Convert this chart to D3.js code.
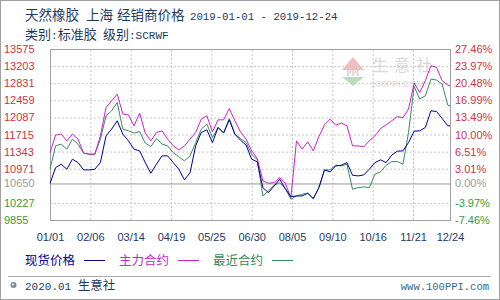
<!DOCTYPE html>
<html>
<head>
<meta charset="utf-8">
<script src="https://cdn.jsdelivr.net/npm/d3@7"></script>
<style>
  html, body { margin: 0; padding: 0; background: #fff; }
  svg { display: block; }
</style>
</head>
<body>
<svg></svg>
<script>
// sample dates (every 5 days) and the three price series
let dates = ['2019-01-01','2019-01-06','2019-01-11','2019-01-16','2019-01-21','2019-01-26','2019-01-31','2019-02-05','2019-02-10','2019-02-15',
             '2019-02-20','2019-02-25','2019-03-02','2019-03-07','2019-03-12','2019-03-17','2019-03-22','2019-03-27','2019-04-01','2019-04-06',
             '2019-04-11','2019-04-16','2019-04-21','2019-04-26','2019-05-01','2019-05-06','2019-05-11','2019-05-16','2019-05-21','2019-05-26',
             '2019-05-31','2019-06-05','2019-06-10','2019-06-15','2019-06-20','2019-06-25','2019-06-30','2019-07-05','2019-07-10','2019-07-15',
             '2019-07-20','2019-07-25','2019-07-30','2019-08-04','2019-08-09','2019-08-14','2019-08-19','2019-08-24','2019-08-29','2019-09-03',
             '2019-09-08','2019-09-13','2019-09-18','2019-09-23','2019-09-28','2019-10-03','2019-10-08','2019-10-13','2019-10-18','2019-10-23',
             '2019-10-28','2019-11-02','2019-11-07','2019-11-12','2019-11-17','2019-11-22','2019-11-27','2019-12-02','2019-12-07','2019-12-12',
             '2019-12-17','2019-12-22','2019-12-24']

// 现货价格 (spot)
let spot = [10650, 10995, 11069, 10960, 11178, 11104, 10945, 10945, 10960, 11104,
            11686, 11832, 12013, 11723, 11577, 11396, 11359, 11104, 10873, 11069,
            11250, 11250, 11104, 10960, 10727, 10886, 11468, 11758, 11817, 11540,
            11867, 11745, 12034, 11723, 11592, 11483, 11178, 11119, 10559, 10450,
            10596, 10742, 10537, 10363, 10378, 10378, 10437, 10320, 10559, 10945,
            10901, 11032, 11047, 11104, 10829, 10814, 10836, 10960, 11104, 11163,
            11104, 11265, 11352, 11359, 11540, 11788, 11795, 11867, 12231, 12215,
            12063, 11904, 11904]

// 主力合约 (main contract)
let mainContract = [11322, 11701, 11723, 11577, 11723, 11614, 11309, 11287, 11287, 11686,
                    12302, 12448, 12594, 12159, 12140, 11904, 12180, 11745, 11577, 11758,
                    11795, 11614, 11468, 11381, 11468, 11614, 11758, 12050, 12122, 11773,
                    12034, 12034, 12281, 12013, 11773, 11614, 11359, 11191, 10705, 10655,
                    10668, 10777, 10655, 10341, 11577, 11396, 11555, 11359, 11671, 11925,
                    12050, 11919, 11963, 11904, 11468, 11468, 11446, 11577, 11686, 11845,
                    11925, 12013, 12106, 12078, 12268, 12834, 12629, 12884, 13211, 13174,
                    12884, 12791, 12775]

// 最近合约 (nearest contract)
let nearContract = [10960, 11468, 11505, 11396, 11614, 11505, 11309, 11287, 11287, 11614,
                    12122, 12231, 12411, 11832, 11795, 11745, 11780, 11527, 11453, 11627,
                    11505, 11468, 11322, 11228, 11141, 11250, 11540, 11832, 11941, 11649,
                    11867, 11758, 12063, 11723, 11627, 11540, 11287, 11163, 10378, 10487,
                    10612, 10668, 10537, 10306, 10378, 10415, 10437, 10320, 10559, 10945,
                    10945, 11047, 11032, 11069, 10524, 10559, 10575, 10559, 10851, 10901,
                    11047, 11126, 11126, 11069, 11758, 12760, 12485, 12557, 12921, 12900,
                    12812, 12355, 12340]

// axis ticks
let xTicks = ['2019-01-01','2019-02-06','2019-03-14','2019-04-19','2019-05-25','2019-06-30','2019-08-05','2019-09-10','2019-10-16','2019-11-21','2019-12-24']
let yTicks = [13575, 13203, 12831, 12459, 12087, 11715, 11343, 10971, 10650, 10227, 9855]
let pctLabels = ['27.46%', '23.97%', '20.48%', '16.99%', '13.49%', '10.00%', '6.51%', '3.01%', '0.00%', '-3.97%', '-7.46%']
let basePrice = 10650

let seriesNames = ['现货价格', '主力合约', '最近合约']
let seriesColors = ['#000099', '#cc22cc', '#3a8a5e']

let width = 500
let height = 300
let plotLeft = 50, plotRight = 450, plotTop = 49, plotBottom = 220

let parse = d3.timeParse('%Y-%m-%d')
let svg = d3.select('svg').attr('width', width).attr('height', height)

let cjk = '"Noto Sans CJK SC", sans-serif'
let mono = '"Liberation Mono", monospace'
let sans = '"Liberation Sans", Arial, sans-serif'
let titleColor = '#1e3a5f'

// outer frame
svg.append('rect')
   .attr('x', 0.5).attr('y', 0.5)
   .attr('width', width - 1).attr('height', height - 1)
   .attr('fill', '#fff').attr('stroke', '#a0a0a0')

// header
let title = svg.append('text').attr('y', 20)
   .style('font-family', cjk).style('font-size', '13.5px').attr('fill', titleColor)
title.append('tspan').attr('x', 25).text('天然橡胶')
title.append('tspan').attr('x', 86).text('上海')
title.append('tspan').attr('x', 117).text('经销商价格')
svg.append('text').attr('x', 190).attr('y', 20)
   .style('font-family', mono).style('font-size', '10.7px').attr('fill', titleColor)
   .text('2019-01-01 - 2019-12-24')
let sub = svg.append('text').attr('x', 25).attr('y', 39)
   .style('font-family', cjk).style('font-size', '13px').attr('fill', titleColor)
sub.append('tspan').text('类别')
sub.append('tspan').style('font-family', mono).style('font-size', '11px').text(':')
sub.append('tspan').text('标准胶')
sub.append('tspan').attr('x', 103).text('级别')
sub.append('tspan').style('font-family', mono).style('font-size', '11px').text(':SCRWF')

// scales
let xScale = d3.scaleTime()
               .domain([parse('2019-01-01'), parse('2019-12-24')])
               .range([plotLeft, plotRight])
let yScale = d3.scaleLinear()
               .domain([9855, 13575])
               .range([plotBottom, plotTop])

// watermark
let wm = svg.append('g').attr('opacity', 0.45)
wm.append('path').attr('d', 'M353,57 L364,70 L342,70 Z').attr('fill', '#e07070')
wm.append('path').attr('d', 'M342,77 L364,77 L353,86 Z').attr('fill', '#70b070')
wm.append('text').attr('x', 353).attr('y', 76).attr('text-anchor', 'middle')
  .style('font-family', 'serif').style('font-size', '8px').style('font-weight', 'bold').attr('fill', '#999')
  .text('PPI')
wm.append('text').attr('x', 372).attr('y', 71)
  .style('font-family', cjk).style('font-size', '16px').style('letter-spacing', '6px').attr('fill', '#aaa')
  .text('生意社')
wm.append('text').attr('x', 371).attr('y', 87)
  .style('font-family', sans).style('font-size', '9px').attr('fill', '#aaa')
  .text('100PPI.COM')

// vertical grid
let xGrid = svg.append('g')
   .attr('transform', 'translate(0,' + plotBottom + ')')
   .call(d3.axisBottom(xScale).tickValues(xTicks.map(parse)).tickSize(-(plotBottom - plotTop)).tickFormat(''))
xGrid.select('.domain').remove()
xGrid.selectAll('line').attr('stroke', '#c8c8c8').attr('stroke-dasharray', '2,2')

// horizontal grid (the base price line is solid)
let yGrid = svg.append('g')
   .attr('transform', 'translate(' + plotLeft + ',0)')
   .call(d3.axisLeft(yScale).tickValues(yTicks).tickSize(-(plotRight - plotLeft)).tickFormat(''))
yGrid.select('.domain').remove()
yGrid.selectAll('line')
     .attr('stroke', (d) => d === basePrice ? '#999' : '#c8c8c8')
     .attr('stroke-dasharray', (d) => d === basePrice ? null : '2,2')

// plot frame
svg.append('rect')
   .attr('x', plotLeft + 0.5).attr('y', plotTop + 0.5)
   .attr('width', plotRight - plotLeft).attr('height', plotBottom - plotTop)
   .attr('fill', 'none').attr('stroke', '#a0a0a0')

let tickColor = (v) => v > basePrice ? '#cc3344' : (v === basePrice ? '#999' : '#3a9a3a')

// left axis labels
let yAxisLeft = svg.append('g')
   .attr('transform', 'translate(' + plotLeft + ',0)')
   .call(d3.axisLeft(yScale).tickValues(yTicks).tickSize(0).tickFormat(d3.format('d')))
yAxisLeft.select('.domain').remove()
yAxisLeft.selectAll('text')
   .attr('x', 4 - plotLeft).attr('text-anchor', 'start')
   .attr('fill', (d) => tickColor(d))
   .style('font-family', sans).style('font-size', '11px')

// right axis labels
let yAxisRight = svg.append('g')
   .attr('transform', 'translate(' + plotRight + ',0)')
   .call(d3.axisRight(yScale).tickValues(yTicks).tickSize(0).tickFormat((d, i) => pctLabels[i]))
yAxisRight.select('.domain').remove()
yAxisRight.selectAll('text')
   .attr('x', 5).attr('text-anchor', 'start')
   .attr('fill', (d) => tickColor(d))
   .style('font-family', sans).style('font-size', '11px')

// x axis labels
let xAxis = svg.append('g')
   .attr('transform', 'translate(0,' + plotBottom + ')')
   .call(d3.axisBottom(xScale).tickValues(xTicks.map(parse)).tickSize(0).tickPadding(13).tickFormat(d3.timeFormat('%m/%d')))
xAxis.select('.domain').remove()
xAxis.selectAll('text').attr('fill', titleColor)
   .style('font-family', sans).style('font-size', '11px')

// lines
let allSeries = [spot, mainContract, nearContract]
let line = d3.line()
             .x((d, i) => xScale(parse(dates[i])))
             .y((d) => yScale(d))

// draw nearest first, then main, then spot on top
;[2, 1, 0].forEach((k) => {
    svg.append('path')
       .datum(allSeries[k])
       .attr('d', line)
       .attr('fill', 'none')
       .attr('stroke', seriesColors[k])
       .attr('stroke-width', 1)
})

// legend
let legendX = [25, 119, 213]
seriesNames.forEach((name, k) => {
    svg.append('text').attr('x', legendX[k]).attr('y', 265)
       .style('font-family', cjk).style('font-size', '12.5px')
       .attr('fill', seriesColors[k])
       .text(name)
    svg.append('line')
       .attr('x1', legendX[k] + 59).attr('x2', legendX[k] + 80)
       .attr('y1', 260.5).attr('y2', 260.5)
       .attr('stroke', seriesColors[k]).attr('stroke-width', 1)
})

// footer
svg.append('line').attr('x1', 8).attr('x2', 491).attr('y1', 276.5).attr('y2', 276.5).attr('stroke', '#aaa')
svg.append('circle').attr('cx', 13.5).attr('cy', 285).attr('r', 3).attr('fill', '#7a8a9a')
svg.append('circle').attr('cx', 13).attr('cy', 284.5).attr('r', 1).attr('fill', '#fff')
let foot = svg.append('text').attr('x', 25).attr('y', 290).attr('fill', titleColor)
foot.append('tspan').style('font-family', mono).style('font-size', '11px').text('2020.01 ')
foot.append('tspan').style('font-family', cjk).style('font-size', '12.5px').text('生意社')
svg.append('text').attr('x', 489).attr('y', 290).attr('text-anchor', 'end')
   .style('font-family', mono).style('font-size', '10.5px').attr('fill', '#3a6a8a')
   .text('www.100PPI.com')
</script>
</body>
</html>
